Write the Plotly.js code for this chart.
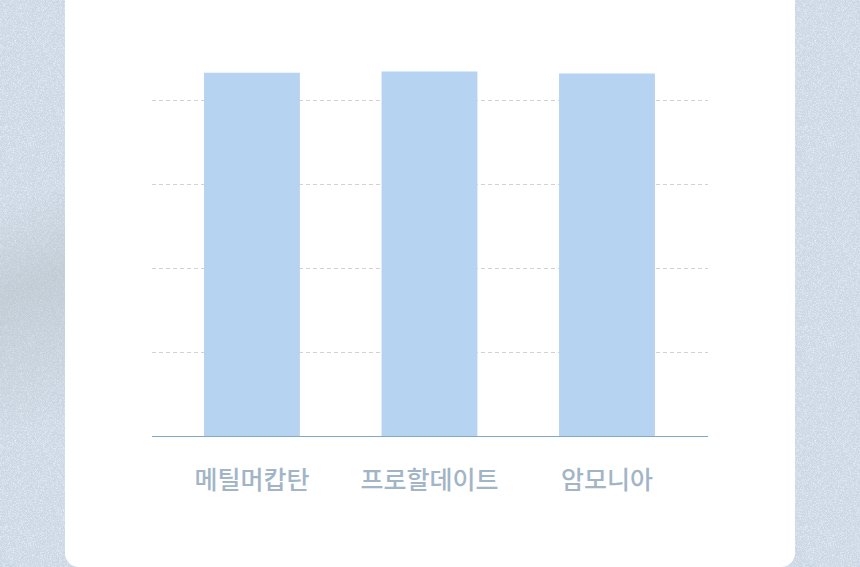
<!DOCTYPE html>
<html lang="ko">
<head>
<meta charset="utf-8">
<script src="https://cdn.plot.ly/plotly-3.0.1.min.js"></script>
<style>
  html, body { margin: 0; padding: 0; width: 860px; height: 567px; overflow: hidden; }
  body {
    position: relative;
    background-color: #c9d6e3;
    background-image:
      linear-gradient(160deg, rgba(180,188,196,0) 35%, rgba(180,188,196,0.45) 50%, rgba(180,188,196,0) 75%),
      url("data:image/svg+xml;utf8,<svg xmlns='http://www.w3.org/2000/svg' width='200' height='200'><filter id='n'><feTurbulence type='fractalNoise' baseFrequency='1.6' numOctaves='1' stitchTiles='stitch'/><feColorMatrix values='0 0 0 0 1  0 0 0 0 1  0 0 0 0 1  0 0 0 1.4 -0.55'/></filter><rect width='200' height='200' filter='url(%23n)'/></svg>");
    background-size: 70px 567px, 200px 200px;
    background-repeat: no-repeat, repeat;
  }
  #card {
    position: absolute; left: 65px; top: -20px; width: 730px; height: 587px;
    background: #ffffff; border-radius: 14px;
  }
  #chart { position: absolute; left: 0; top: 0; width: 860px; height: 567px; }
</style>
</head>
<body>
<div id="card"></div>
<div id="chart"></div>
<script>
const categories = ['메틸머캅탄', '프로할데이트', '암모니아'];
const values = [86.7, 87.0, 86.5];
const gridValues = [0, 20, 40, 60, 80];

const trace = {
  type: 'bar',
  x: categories,
  y: values,
  width: 0.54,
  marker: { color: '#b6d3f1', line: { width: 0 } },
  hoverinfo: 'x+y'
};

const layout = {
  width: 860,
  height: 567,
  margin: { l: 152, r: 152, t: 38, b: 131 },
  paper_bgcolor: 'rgba(0,0,0,0)',
  plot_bgcolor: 'rgba(0,0,0,0)',
  showlegend: false,
  font: { family: '"Noto Sans CJK KR", "Noto Sans", sans-serif' },
  xaxis: {
    type: 'category',
    range: [-0.563, 2.569],
    showgrid: false,
    zeroline: false,
    showline: true,
    linecolor: '#7fa9c9',
    linewidth: 1,
    ticks: 'outside',
    ticklen: 22,
    tickcolor: 'rgba(0,0,0,0)',
    tickfont: { size: 25, color: '#a2b5c6', weight: 500 }
  },
  yaxis: {
    range: [0, 95],
    tickmode: 'array',
    tickvals: gridValues,
    showticklabels: false,
    showgrid: true,
    gridcolor: '#d2d2d2',
    griddash: '4px,3px',
    gridwidth: 1,
    zeroline: false,
    showline: false
  }
};

Plotly.newPlot('chart', [trace], layout, { displayModeBar: false, staticPlot: true });
</script>
</body>
</html>
